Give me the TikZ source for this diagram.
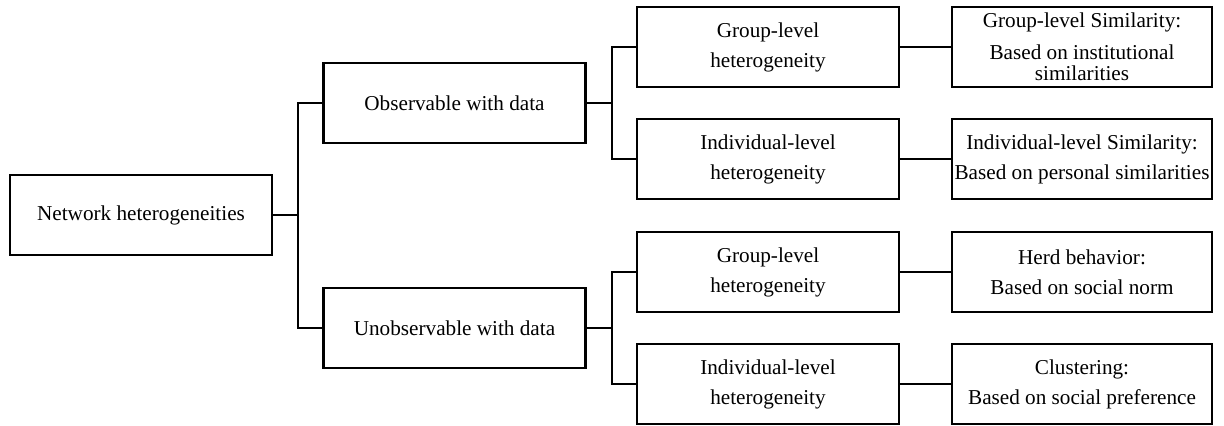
\documentclass[tikz,border=0pt]{standalone}
\usepackage{fontspec}
\setmainfont{Liberation Serif}

\begin{document}
\begin{tikzpicture}[x=0.5pt,y=-0.5pt,every node/.style={font=\fontsize{10.6}{15}\selectfont},
  box/.style={draw,line width=1.3pt,minimum width=131pt,minimum height=40pt,inner sep=0pt,align=center},
  link/.style={line width=1.3pt}]
\useasboundingbox (0,0) rectangle (1224,426);
\node[box] (root) at (141,215) {Network heterogeneities};
\node[box] (obs) at (454.5,103) {Observable with data};
\node[box] (unobs) at (454.5,328) {Unobservable with data};
\node[box] (obsgrp) at (768,47) {Group-level\\heterogeneity};
\node[box] (obsind) at (768,159) {Individual-level\\heterogeneity};
\node[box] (unobsgrp) at (768,272) {Group-level\\heterogeneity};
\node[box] (unobsind) at (768,384) {Individual-level\\heterogeneity};
\node[box,minimum width=130pt] (simgrp) at (1082,47) {Group-level Similarity:\\[1pt]Based on institutional\\[-4.5pt]similarities};
\node[box,minimum width=130pt] (simind) at (1082,159) {Individual-level Similarity:\\Based on personal similarities};
\node[box,minimum width=130pt] (herd) at (1082,272) {Herd behavior:\\Based on social norm};
\node[box,minimum width=130pt] (clust) at (1082,384) {Clustering:\\Based on social preference};
\coordinate (t0) at (298,215);
\coordinate (t1) at (612,103);
\coordinate (t2) at (612,328);
\draw[link] (root.east) -- (t0) |- (obs.west);
\draw[link] (t0) |- (unobs.west);
\draw[link] (obs.east) -- (t1) |- (obsgrp.west);
\draw[link] (t1) |- (obsind.west);
\draw[link] (unobs.east) -- (t2) |- (unobsgrp.west);
\draw[link] (t2) |- (unobsind.west);
\draw[link] (obsgrp) -- (simgrp);
\draw[link] (obsind) -- (simind);
\draw[link] (unobsgrp) -- (herd);
\draw[link] (unobsind) -- (clust);
\end{tikzpicture}
\end{document}
